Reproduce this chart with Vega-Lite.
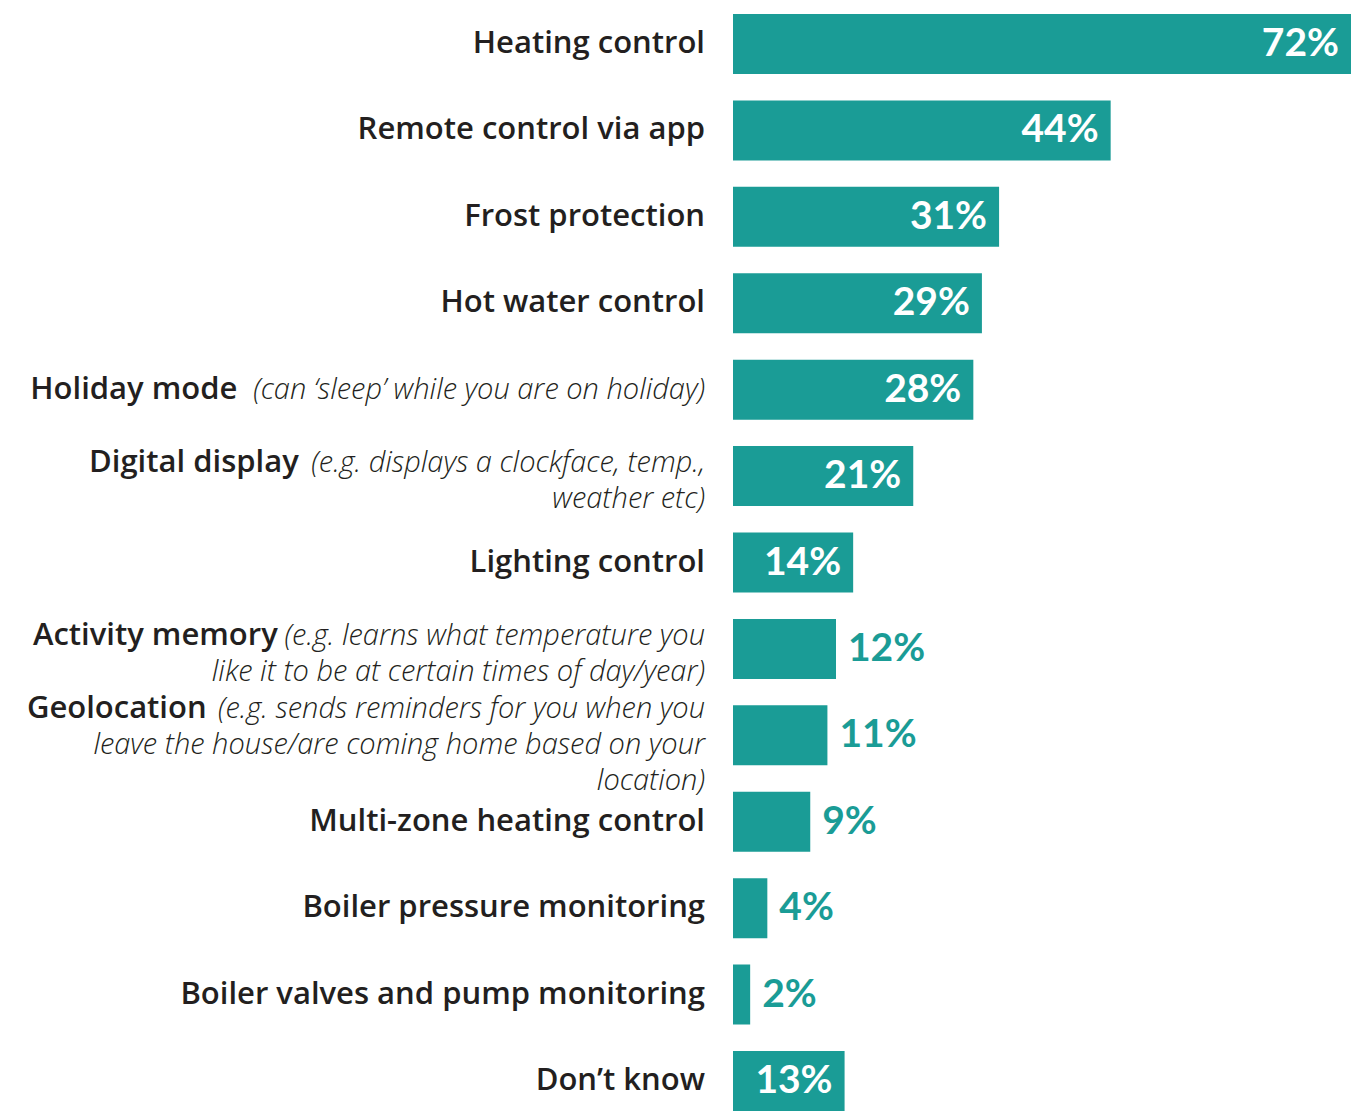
{
  "$schema": "https://vega.github.io/schema/vega-lite/v6.json",
  "width": 618,
  "height": 1097,
  "autosize": {"type": "none"},
  "padding": {"left": 733, "top": 14, "right": 0, "bottom": 0},
  "background": "white",
  "config": {"view": {"stroke": null}},
  "data": {
    "values": [
      {"feature": "Heating control", "desc": null, "pct": 72},
      {"feature": "Remote control via app", "desc": null, "pct": 44},
      {"feature": "Frost protection", "desc": null, "pct": 31},
      {"feature": "Hot water control", "desc": null, "pct": 29},
      {"feature": "Holiday mode", "desc": ["(can ‘sleep’ while you are on holiday)"], "pct": 28},
      {"feature": "Digital display", "desc": ["(e.g. displays a clockface, temp.,", "weather etc)"], "pct": 21},
      {"feature": "Lighting control", "desc": null, "pct": 14},
      {"feature": "Activity memory", "desc": ["(e.g. learns what temperature you", "like it to be at certain times of day/year)"], "pct": 12},
      {"feature": "Geolocation", "desc": ["(e.g. sends reminders for you when you", "leave the house/are coming home based on your", "location)"], "pct": 11},
      {"feature": "Multi-zone heating control", "desc": null, "pct": 9},
      {"feature": "Boiler pressure monitoring", "desc": null, "pct": 4},
      {"feature": "Boiler valves and pump monitoring", "desc": null, "pct": 2},
      {"feature": "Don’t know", "desc": null, "pct": 13}
    ]
  },
  "transform": [{"calculate": "datum.pct + '%'", "as": "pctLabel"}],
  "encoding": {
    "y": {
      "field": "feature",
      "type": "nominal",
      "sort": null,
      "axis": null,
      "scale": {"paddingInner": 0.3056, "paddingOuter": 0}
    }
  },
  "layer": [
    {
      "mark": {"type": "bar", "color": "#1a9c96"},
      "encoding": {
        "x": {
          "field": "pct",
          "type": "quantitative",
          "scale": {"domain": [0, 72], "nice": false},
          "axis": null
        }
      }
    },
    {
      "transform": [{"filter": "datum.pct >= 13"}],
      "mark": {
        "type": "text",
        "align": "right",
        "baseline": "middle",
        "dx": -12,
        "font": "Lato",
        "fontWeight": "bold",
        "fontSize": 39,
        "color": "white"
      },
      "encoding": {
        "x": {"field": "pct", "type": "quantitative"},
        "text": {"field": "pctLabel"}
      }
    },
    {
      "transform": [{"filter": "datum.pct < 13"}],
      "mark": {
        "type": "text",
        "align": "left",
        "baseline": "middle",
        "dx": 12,
        "font": "Lato",
        "fontWeight": "bold",
        "fontSize": 39,
        "color": "#1a9c96"
      },
      "encoding": {
        "x": {"field": "pct", "type": "quantitative"},
        "text": {"field": "pctLabel"}
      }
    },
    {
      "mark": {
        "type": "text",
        "align": "right",
        "baseline": "middle",
        "font": "Open Sans",
        "fontWeight": 600,
        "fontSize": 31,
        "color": "#231f20",
        "dx": {"expr": "isValid(datum.desc) ? -40 - 26.62 * (0.612 * length(datum.desc[0]) - 0.357 * (length(datum.desc[0]) - length(replace(datum.desc[0], regexp('[ijl.,‘’ ]', 'g'), ''))) - 0.262 * (length(datum.desc[0]) - length(replace(datum.desc[0], regexp('[ftr()/]', 'g'), ''))) - 0.122 * (length(datum.desc[0]) - length(replace(datum.desc[0], regexp('[cskvxyz]', 'g'), ''))) + 0.318 * (length(datum.desc[0]) - length(replace(datum.desc[0], regexp('m', 'g'), ''))) + 0.166 * (length(datum.desc[0]) - length(replace(datum.desc[0], regexp('w', 'g'), ''))) - 0.056 * (length(datum.desc[0]) - length(replace(datum.desc[0], regexp('[aeg]', 'g'), '')))) : -28"},
        "dy": {"expr": "isValid(datum.desc) ? -(length(datum.desc) - 1) * 13.2 : 0"}
      },
      "encoding": {
        "x": {"datum": 0, "type": "quantitative"},
        "text": {"field": "feature"}
      }
    },
    {
      "transform": [{"filter": "isValid(datum.desc)"}],
      "mark": {
        "type": "text",
        "align": "right",
        "baseline": "middle",
        "dx": -28,
        "dy": {"expr": "-(length(datum.desc) - 1) * 13.2"},
        "font": "Open Sans",
        "fontStyle": "italic",
        "fontWeight": 300,
        "fontSize": 29,
        "lineHeight": 36,
        "color": "#231f20"
      },
      "encoding": {
        "x": {"datum": 0, "type": "quantitative"},
        "text": {"field": "desc"}
      }
    }
  ]
}
